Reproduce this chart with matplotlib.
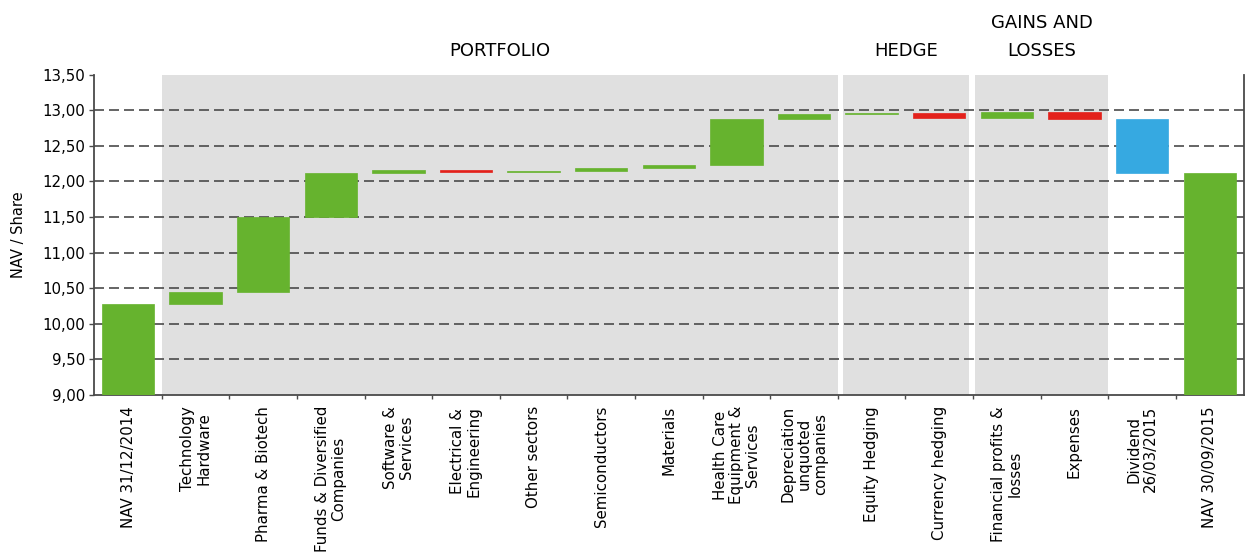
import matplotlib
matplotlib.use("Agg")
import matplotlib.pyplot as plt
from matplotlib.ticker import FixedLocator, FuncFormatter

plt.rcParams['font.family'] = ['DejaVu Sans']

categories = [
    "NAV 31/12/2014", "Technology\nHardware", "Pharma & Biotech",
    "Funds & Diversified\nCompanies", "Software &\nServices",
    "Electrical &\nEngineering", "Other sectors", "Semiconductors",
    "Materials", "Health Care\nEquipment &\nServices",
    "Depreciation\nunquoted\ncompanies", "Equity Hedging",
    "Currency hedging", "Financial profits &\nlosses", "Expenses",
    "Dividend\n26/03/2015", "NAV 30/09/2015",
]
start_nav = 10.28
deltas = [0.17, 1.05, 0.62, 0.04, -0.03, 0.02, 0.04, 0.04, 0.65, 0.06,
          0.02, -0.07, 0.09, -0.11, -0.75]
end_nav = 12.11
dividend_index = 15

sections = ["PORTFOLIO", "HEDGE", "GAINS AND\nLOSSES"]
section_spans = [(0.5, 10.5), (10.57, 12.44), (12.53, 14.5)]

yticks = [9.0, 9.5, 10.0, 10.5, 11.0, 11.5, 12.0, 12.5, 13.0, 13.5]

GREEN = "#66B32E"
RED = "#E3211B"
BLUE = "#36A9E1"
SPAN = "#E0E0E0"
AXC = "#4a4a4a"

fig = plt.figure(figsize=(12.45, 5.57), dpi=100)
ax = fig.add_axes([0.0757, 0.291, 0.9231, 0.5752])

# waterfall geometry
bottoms, heights, colors = [], [], []
bottoms.append(yticks[0]); heights.append(start_nav - yticks[0]); colors.append(GREEN)
level = start_nav
for i, d in enumerate(deltas):
    idx = i + 1
    new = level + d
    bottoms.append(min(level, new))
    heights.append(abs(d))
    if idx == dividend_index:
        colors.append(BLUE)
    else:
        colors.append(GREEN if d >= 0 else RED)
    level = new
bottoms.append(yticks[0]); heights.append(end_nav - yticks[0]); colors.append(GREEN)

x = list(range(len(categories)))
ax.bar(x, heights, bottom=bottoms, width=0.775, color=colors, zorder=3,
       edgecolor=colors, linewidth=0.5)

for (a, b), name in zip(section_spans, sections):
    ax.axvspan(a, b, color=SPAN, zorder=0, linewidth=0)
    ax.annotate(name, xy=((a + b) / 2, 1.0), xycoords=('data', 'axes fraction'),
                xytext=(0, 13), textcoords='offset points', ha='center',
                va='baseline', fontsize=13, linespacing=1.75, color='black')

for t in yticks[1:-1]:
    ax.axhline(t, color=AXC, lw=1.2, linestyle=(0, (6, 3)), zorder=1)

ax.set_xlim(-0.5, len(categories) - 0.5)
ax.set_ylim(yticks[0], yticks[-1])
ax.set_yticks(yticks)
ax.yaxis.set_major_formatter(FuncFormatter(lambda v, p: f"{v:.2f}".replace('.', ',')))
ax.set_xticks(x)
ax.set_xticklabels(categories, rotation=90, ha='center', va='top',
                   multialignment='center', fontsize=10.8, linespacing=1.12)
ax.xaxis.set_minor_locator(FixedLocator([i + 0.5 for i in x[:-1]]))
ax.tick_params(axis='x', which='major', length=0, pad=8)
ax.tick_params(axis='x', which='minor', length=3, width=1, color=AXC)
ax.tick_params(axis='y', length=3.5, width=1, color=AXC, labelsize=10.8, pad=3)

for s in ['left', 'bottom', 'right']:
    ax.spines[s].set_color(AXC)
    ax.spines[s].set_linewidth(1.3)
ax.spines['top'].set_visible(False)

ax.set_ylabel("NAV / Share", fontsize=10.5, labelpad=12)

fig.savefig("out.png", dpi=100)
